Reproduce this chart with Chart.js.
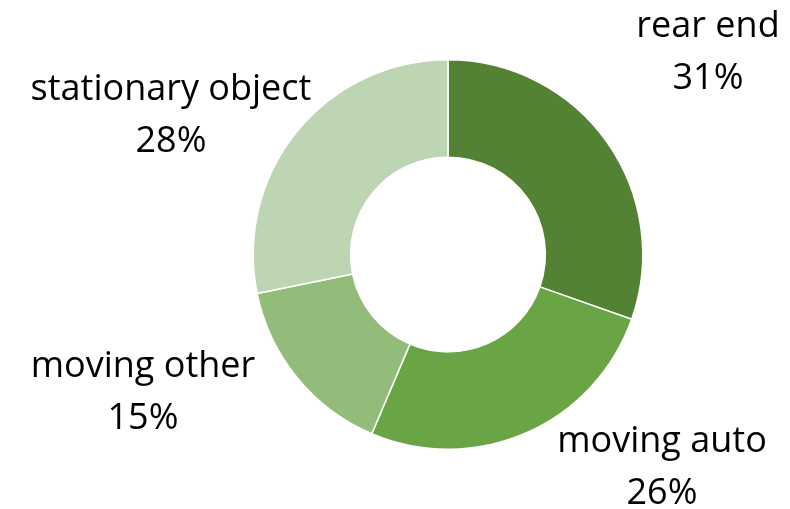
<!DOCTYPE html>
<html>
<head>
<meta charset="utf-8">
<script src="https://cdn.jsdelivr.net/npm/chart.js@4/dist/chart.umd.min.js"></script>
<style>
  html, body { margin: 0; padding: 0; background: #fff; }
  #wrap { width: 790px; height: 509px; position: relative; }
</style>
</head>
<body>
<div id="wrap"><canvas id="donut"></canvas></div>
<script>
// Dati del grafico
const categories = ["rear end", "moving auto", "moving other", "stationary object"];
// ampiezza delle fette misurata sul grafico
const shares = [30.4, 26.0, 15.4, 28.2];
// percentuali mostrate nelle etichette
const percentLabels = ["31%", "26%", "15%", "28%"];
const sliceColors = ["#548235", "#69a445", "#93bb7a", "#bdd5b3"];

// Posizione delle etichette (centro orizzontale, baseline prima riga)
const labelAnchors = [
  { x: 708, y: 37 },
  { x: 662, y: 452 },
  { x: 143, y: 377 },
  { x: 171, y: 100 },
];

const outsideLabels = {
  id: "outsideLabels",
  afterDraw(chart) {
    const ctx = chart.ctx;
    ctx.save();
    ctx.fillStyle = "#000";
    ctx.font = "36px 'Open Sans'";
    ctx.textAlign = "center";
    ctx.textBaseline = "alphabetic";
    chart.data.labels.forEach((name, i) => {
      const a = labelAnchors[i];
      ctx.fillText(name, a.x, a.y);
      ctx.fillText(percentLabels[i], a.x, a.y + 52);
    });
    ctx.restore();
  },
};

new Chart(document.getElementById("donut"), {
  type: "doughnut",
  data: {
    labels: categories,
    datasets: [
      {
        data: shares,
        backgroundColor: sliceColors,
        borderColor: "#ffffff",
        borderWidth: 1.5,
      },
    ],
  },
  options: {
    responsive: true,
    maintainAspectRatio: false,
    animation: false,
    cutout: "50%",
    layout: {
      padding: { left: 252, right: 146, top: 59, bottom: 59 },
    },
    plugins: {
      legend: { display: false },
      tooltip: { enabled: false },
    },
  },
  plugins: [outsideLabels],
});
</script>
</body>
</html>
